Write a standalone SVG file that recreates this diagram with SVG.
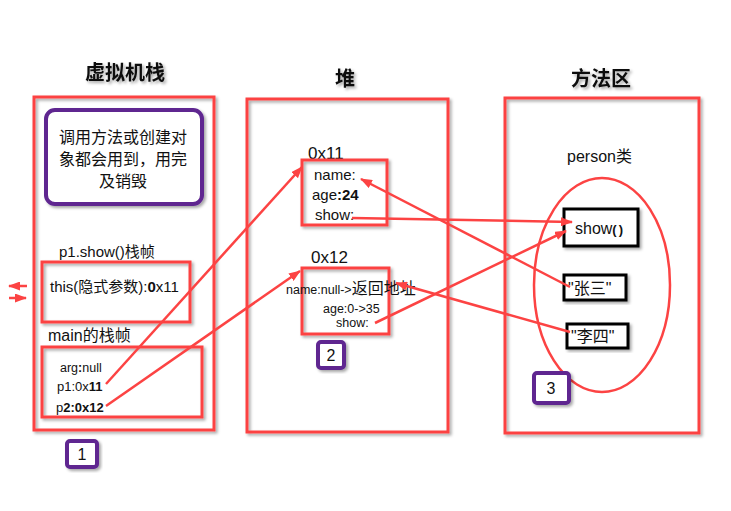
<svg xmlns="http://www.w3.org/2000/svg" width="731" height="511" viewBox="0 0 731 511">
<style>
.bg{fill:#fff}
.red{fill:none;stroke:#fc4343;stroke-width:3}
.purple{fill:#fff;stroke:#5e2590;stroke-width:4}
.blk{fill:#fff;stroke:#000;stroke-width:3}
.t{font-family:"Liberation Sans","Noto Sans CJK SC",sans-serif;fill:#111}
.cjk{font-family:"Noto Sans CJK SC","Liberation Sans",sans-serif}
.title{font-family:"Noto Sans CJK SC",sans-serif;font-weight:bold;font-size:20px;fill:#111;text-anchor:middle}
.conn{stroke:#fc4343;stroke-width:2.5;fill:none}
</style>
<defs>
<filter id="sh" x="-10%" y="-10%" width="130%" height="130%">
<feDropShadow dx="2" dy="2" stdDeviation="1.5" flood-color="#000" flood-opacity="0.35"/>
</filter>
<marker id="ah" markerWidth="12" markerHeight="9" refX="11" refY="4.5" orient="auto" markerUnits="userSpaceOnUse">
<path d="M0,0 L12,4.5 L0,9 Z" fill="#fc4343"/>
</marker>
</defs>
<rect class="bg" width="731" height="511"/>

<g id="stack">
<text class="title" x="125" y="80" filter="url(#sh)">虚拟机栈</text>
<rect class="red" x="34" y="97" width="180" height="333" filter="url(#sh)"/>
</g>
<g id="note">
<rect class="purple" x="46" y="110" width="156" height="94" rx="9" filter="url(#sh)"/>
<text class="t cjk" font-size="16" text-anchor="middle"><tspan x="123" y="143">调用方法或创建对</tspan><tspan x="123" y="165">象都会用到，用完</tspan><tspan x="123" y="187">及销毁</tspan></text>
</g>
<g id="showFrame">
<text class="t" font-size="15" x="59" y="257">p1.show()栈帧</text>
<rect class="red" x="42" y="262" width="148" height="60" filter="url(#sh)"/>
<text class="t" font-size="15" x="50" y="292">this(隐式参数):<tspan font-weight="bold">0</tspan>x11</text>
</g>
<g id="mainFrame">
<text class="t" font-size="16" x="48" y="341">main的栈帧</text>
<rect class="red" x="42" y="347" width="160" height="70" filter="url(#sh)"/>
<text class="t" font-size="12.5" x="60" y="372">arg<tspan font-weight="bold">:</tspan>null</text>
<text class="t" font-size="13" x="57" y="391">p1:0x<tspan font-weight="bold">11</tspan></text>
<text class="t" font-size="13" x="56" y="412" font-weight="bold"><tspan font-weight="normal">p</tspan>2:0x12</text>
</g>
<g id="label1">
<rect class="purple" x="67" y="441" width="30" height="26" rx="3" filter="url(#sh)"/>
<text class="t" font-size="16" x="82" y="460" text-anchor="middle">1</text>
</g>

<g id="heap">
<text class="title" x="345" y="86" filter="url(#sh)">堆</text>
<rect class="red" x="247" y="99" width="201" height="333" filter="url(#sh)"/>
</g>
<g id="obj1">
<text class="t" font-size="17" x="308" y="159">0x11</text>
<rect class="red" x="302" y="160" width="85" height="65" filter="url(#sh)"/>
<text class="t" font-size="15" x="314" y="180">name:</text>
<text class="t" font-size="15" x="312" y="200">age<tspan font-weight="bold">:24</tspan></text>
<text class="t" font-size="15" x="315" y="220">show:</text>
</g>
<g id="obj2">
<text class="t" font-size="17" x="311" y="263">0x12</text>
<rect class="red" x="302" y="268" width="87" height="66" filter="url(#sh)"/>
<text class="t" font-size="12.5" x="286" y="294">name:null-&gt;<tspan class="cjk" font-size="16">返回地址</tspan></text>
<text class="t" font-size="12.5" x="323" y="313">age:0-&gt;35</text>
<text class="t" font-size="12.5" x="336" y="327">show:</text>
</g>
<g id="label2">
<rect class="purple" x="318" y="342" width="26" height="26" rx="3" filter="url(#sh)"/>
<text class="t" font-size="16" x="331" y="361" text-anchor="middle">2</text>
</g>

<g id="method">
<text class="title" x="601" y="86" filter="url(#sh)">方法区</text>
<rect class="red" x="505" y="98" width="194" height="335" filter="url(#sh)"/>
<text class="t" font-size="16" x="567" y="162">person类</text>
<ellipse cx="602" cy="285" rx="68" ry="107" fill="none" stroke="#fc4343" stroke-width="2.5"/>
</g>
<g id="showMethod">
<rect class="blk" x="564" y="209" width="74" height="37" filter="url(#sh)"/>
<text class="t" font-size="16" x="575" y="234">show<tspan font-weight="bold" font-size="13" letter-spacing="2">()</tspan></text>
</g>
<g id="zhangsan">
<rect class="blk" x="564" y="275" width="62" height="25" filter="url(#sh)"/>
<text class="t" font-size="16" x="568" y="294">"<tspan class="cjk">张三</tspan>"</text>
</g>
<g id="lisi">
<rect class="blk" x="567" y="324" width="61" height="24" filter="url(#sh)"/>
<text class="t" font-size="16" x="571" y="342">"<tspan class="cjk">李四</tspan>"</text>
</g>
<g id="label3">
<rect class="purple" x="534" y="373" width="35" height="30" rx="3" filter="url(#sh)"/>
<text class="t" font-size="16" x="551" y="394" text-anchor="middle">3</text>
</g>

<g id="connectors">
<line class="conn" x1="106" y1="384" x2="302" y2="167" marker-end="url(#ah)"/>
<line class="conn" x1="106" y1="406" x2="300" y2="271" marker-end="url(#ah)"/>
<line class="conn" x1="352" y1="218" x2="572" y2="222" marker-end="url(#ah)"/>
<line class="conn" x1="570" y1="287" x2="361" y2="179" marker-end="url(#ah)"/>
<line class="conn" x1="375" y1="323" x2="566" y2="231" marker-end="url(#ah)"/>
<line class="conn" x1="570" y1="332" x2="396" y2="283" marker-end="url(#ah)"/>
<line class="conn" x1="27" y1="286" x2="9" y2="286" marker-end="url(#ah)"/>
<line class="conn" x1="9" y1="298" x2="26" y2="298" marker-end="url(#ah)"/>
</g>
</svg>
